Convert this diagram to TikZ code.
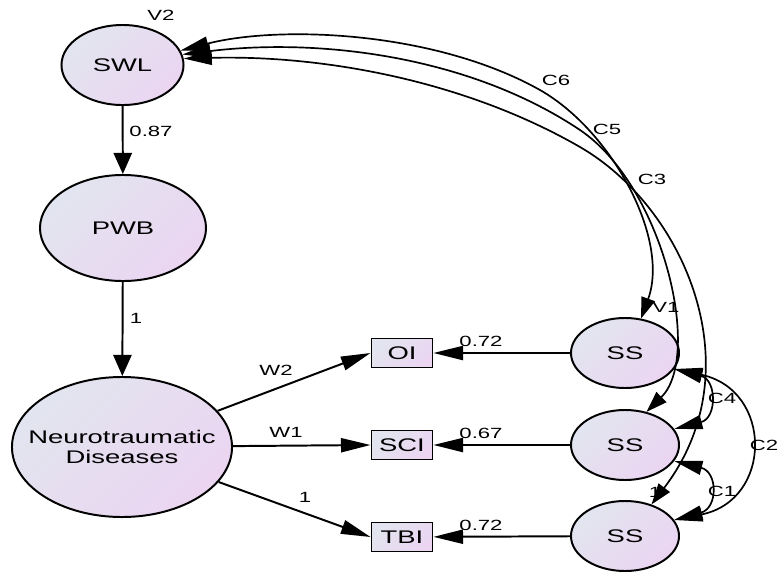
\documentclass[tikz,border=0pt]{standalone}
\usepackage{fontspec}
\setmainfont{Liberation Sans}[FakeStretch=1.5]
\usetikzlibrary{shapes.geometric,arrows.meta}
\definecolor{shadeTop}{RGB}{226,229,239}
\definecolor{shadeBot}{RGB}{235,213,241}
\begin{document}
\begin{tikzpicture}[x=0.025cm,y=-0.025cm,
    latent/.style={ellipse,draw,line width=1.4pt,inner sep=0pt,top color=shadeTop,bottom color=shadeBot,shading angle=45,font=\fontsize{13}{14.5}\selectfont},
    observed/.style={rectangle,draw,line width=1.4pt,minimum width=1.525cm,minimum height=0.725cm,inner sep=0pt,top color=shadeTop,bottom color=shadeBot,shading angle=45,font=\fontsize{13}{14.5}\selectfont},
    lbl/.style={font=\fontsize{10.5}{12}\selectfont,inner sep=0pt},
    regarrow/.style={line width=1.4pt,-{Triangle[length=21pt,width=10pt]}},
    downarrow/.style={line width=1.4pt,-{Triangle[length=15pt,width=13pt]}},
    cov/.style={line width=1.2pt,{Triangle[length=20pt,width=10pt]}-{Triangle[length=15pt,width=10pt]}},
    ssarc/.style={line width=1.2pt,{Triangle[length=20pt,width=10pt]}-{Triangle[length=20pt,width=10pt]}}]
  \useasboundingbox (0,0) rectangle (779,574);
  % latent variables
  \node[latent,minimum width=3.05cm,minimum height=2cm] (swl) at (122.5,65) {SWL};
  \node[latent,minimum width=4.15cm,minimum height=2.65cm] (pwb) at (123,228) {PWB};
  \node[latent,minimum width=5.5cm,minimum height=3.5cm,
        label={[align=center,font=\fontsize{13}{14.5}\selectfont]center:Neurotraumatic\\Diseases}] (neuro) at (122,447) {};
  \node[latent,minimum width=2.7cm,minimum height=1.75cm] (ss1) at (625,353) {SS};
  \node[latent,minimum width=2.7cm,minimum height=1.75cm] (ss2) at (625,445) {SS};
  \node[latent,minimum width=2.7cm,minimum height=1.75cm] (ss3) at (625,536) {SS};
  % observed
  \node[observed] (oi) at (402,353) {OI};
  \node[observed] (sci) at (402,445) {SCI};
  \node[observed] (tbi) at (402,537) {TBI};
  % paths
  \draw[downarrow] (swl) -- (pwb);
  \draw[downarrow] (pwb) -- (neuro);
  \draw[regarrow] (neuro) -- (oi.west);
  \draw[regarrow] (neuro) -- (sci.west);
  \draw[regarrow] (neuro) -- (tbi.west);
  \draw[regarrow] (ss1) -- (oi);
  \draw[regarrow] (ss2) -- (sci);
  \draw[regarrow] (ss3) -- (tbi);
  % covariances
  \draw[cov] (swl.14) .. controls (280,25) and (435,31) .. (540,90)
    .. controls (612,131) and (670,239) .. (ss1.65);
  \draw[cov] (swl.10) .. controls (317,38) and (468,55) .. (580,130)
    .. controls (663,186) and (703,356) .. (ss2.57);
  \draw[cov] (swl.6) .. controls (319,55) and (462,79) .. (580,147)
    .. controls (684,207) and (755,369) .. (ss3.50);
  \draw[ssarc] (ss1.-18) .. controls (717,380) and (717,418) .. (ss2.18);
  \draw[ssarc] (ss2.-18) .. controls (718,472) and (718,508) .. (ss3.18);
  \draw[ssarc] (ss1.-18) .. controls (773,390) and (773,500) .. (ss3.18);
  % labels
  \node[lbl] (v2) at (161,15) {V2};
  \node[lbl] (v1) at (666,307) {V1};
  \node[lbl] (e3) at (655,492) {1};
  \node[lbl] (b1) at (151,131) {0.87};
  \node[lbl] (b2) at (136,318) {1};
  \node[lbl] (w2) at (276,370) {W2};
  \node[lbl] (w1) at (286,432) {W1};
  \node[lbl] (w0) at (305,497) {1};
  \node[lbl] (l1) at (481,341) {0.72};
  \node[lbl] (l2) at (481,433) {0.67};
  \node[lbl] (l3) at (481,525) {0.72};
  \node[lbl] (c6) at (556,80) {C6};
  \node[lbl] (c5) at (607,129) {C5};
  \node[lbl] (c3) at (652,179) {C3};
  \node[lbl] (c4) at (722,398) {C4};
  \node[lbl] (c1) at (722,491) {C1};
  \node[lbl] (c2) at (764,445) {C2};
\end{tikzpicture}
\end{document}
